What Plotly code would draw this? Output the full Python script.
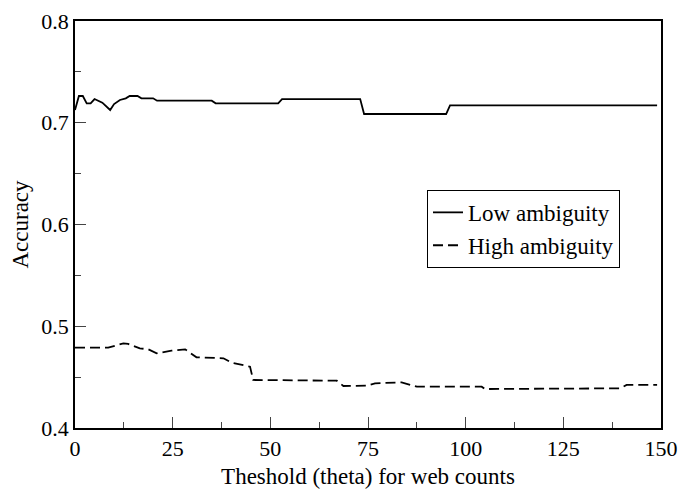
import plotly.graph_objects as go

# Data
low_theta = [0, 1, 2, 3, 4, 5, 7, 9, 10, 11.5, 13, 14, 16, 17, 20, 21, 35, 36, 52, 53, 73, 74, 95, 96, 149]
low_acc = [0.7125, 0.7263, 0.7263, 0.7191, 0.7191, 0.7233, 0.7197, 0.7125, 0.7184, 0.7224,
           0.7240, 0.7263, 0.7263, 0.7240, 0.7240, 0.7217, 0.7217, 0.7191, 0.7191, 0.7233,
           0.7233, 0.7086, 0.7086, 0.7170, 0.7170]

high_theta = [0, 8.5, 12.4, 13.6, 16.6, 18.8, 20.9, 24.7, 28.2, 31.1, 38, 40.1, 44.8, 45.6,
              67, 68.7, 74.7, 76.8, 83.6, 87.5, 104.1, 104.9, 139.5, 141.2, 149]
high_acc = [0.4789, 0.4789, 0.4832, 0.4826, 0.4783, 0.4773, 0.4734, 0.4760, 0.4773, 0.4695,
            0.4685, 0.4642, 0.4603, 0.4472, 0.4465, 0.4413, 0.4416, 0.4439, 0.4449, 0.4406,
            0.4406, 0.4383, 0.4390, 0.4423, 0.4423]

x_ticks = [0, 25, 50, 75, 100, 125, 150]
y_ticks = [0.4, 0.5, 0.6, 0.7, 0.8]

FONT = "Liberation Serif"

fig = go.Figure()
fig.add_trace(go.Scatter(x=low_theta, y=low_acc, mode="lines", name="Low ambiguity",
                         line=dict(color="black", width=1.8)))
fig.add_trace(go.Scatter(x=high_theta, y=high_acc, mode="lines", name="High ambiguity",
                         line=dict(color="black", width=1.8, dash="10px,5px")))

fig.update_layout(
    width=680, height=489,
    margin=dict(l=75, r=19, t=21, b=61, autoexpand=False),
    paper_bgcolor="white", plot_bgcolor="white",
    font=dict(family=FONT, size=22, color="black"),
    showlegend=True,
    legend=dict(x=0.6007, y=0.585, xanchor="left", yanchor="top",
                bgcolor="white", bordercolor="black", borderwidth=1,
                font=dict(family=FONT, size=23), itemwidth=30,
                tracegroupgap=0),
)
fig.update_xaxes(
    range=[0, 150], tickvals=x_ticks, ticktext=[str(v) for v in x_ticks],
    showline=True, linecolor="black", linewidth=1.5, mirror=True,
    ticks="inside", ticklen=11, tickwidth=1.2, tickcolor="#444",
    minor=dict(ticks="inside", dtick=12.5, ticklen=6, tickwidth=1.2, tickcolor="#444"),
    showgrid=False, zeroline=False, automargin=False,
    title=dict(text="Theshold (theta) for web counts", font=dict(family=FONT, size=23), standoff=8),
    tickfont=dict(family=FONT, size=22),
)
fig.update_yaxes(
    range=[0.4, 0.8], tickvals=y_ticks, ticktext=[f"{v:.1f}" for v in y_ticks],
    showline=True, linecolor="black", linewidth=1.5, mirror=True,
    ticks="inside", ticklen=11, tickwidth=1.2, tickcolor="#444",
    minor=dict(ticks="inside", dtick=0.05, ticklen=6, tickwidth=1.2, tickcolor="#444"),
    showgrid=False, zeroline=False, automargin=False,
    title=dict(text="Accuracy", font=dict(family=FONT, size=23), standoff=6),
    tickfont=dict(family=FONT, size=22),
)

fig.write_html("out.html", config={"displayModeBar": False},
               post_script="document.body.style.margin='0';")
